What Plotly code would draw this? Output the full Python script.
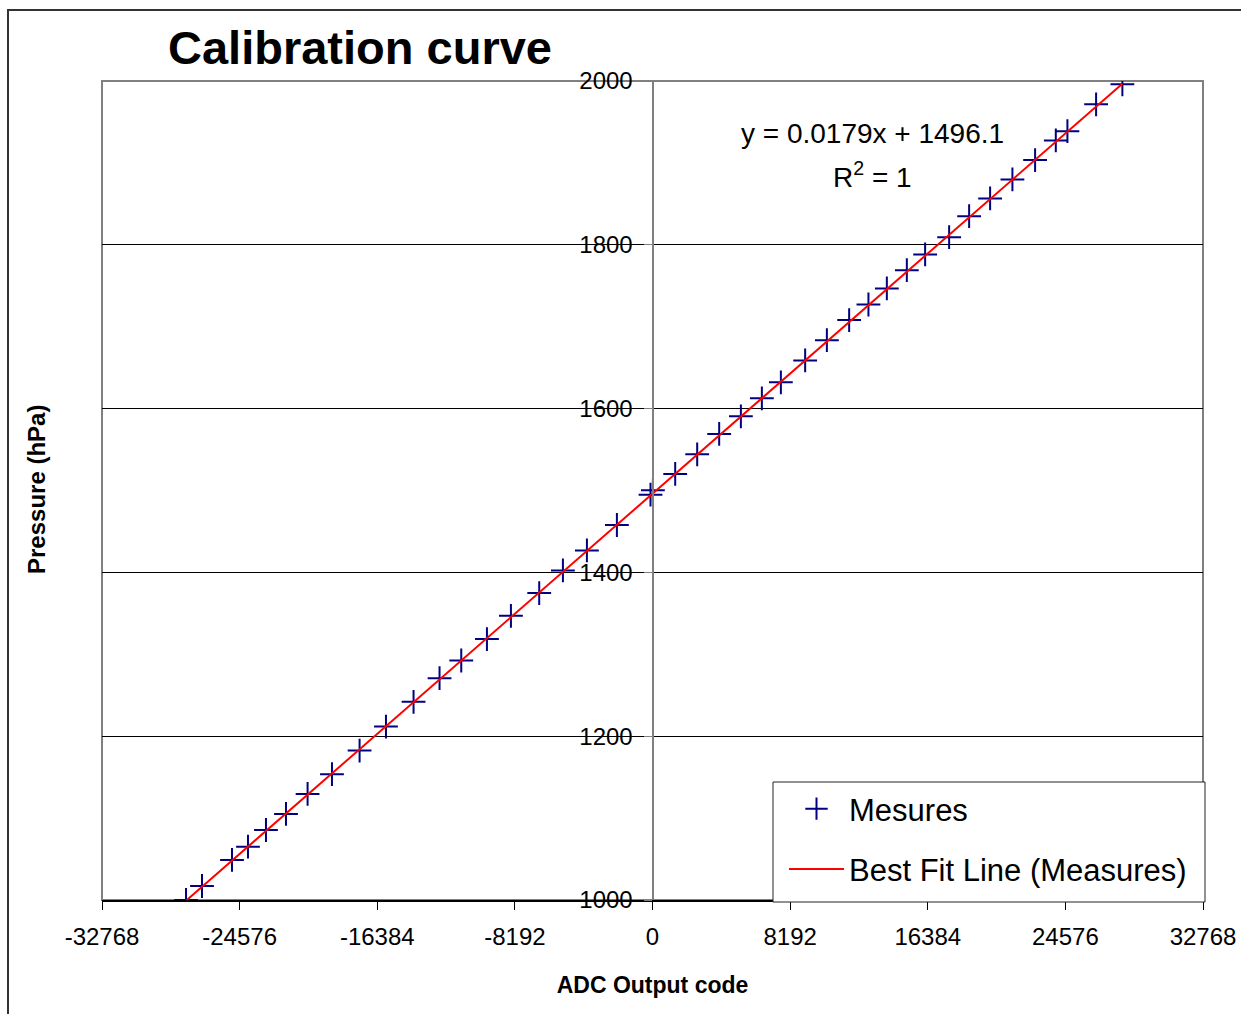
import plotly.graph_objects as go

# ---- data ----
adc_codes = [-27767, -26815, -25030, -24078, -23007, -21816, -20531, -19079, -17436,
             -15865, -14223, -12676, -11384, -9855, -8427, -6743, -5332, -3904, -2119,
             -119, 24, 1351, 2660, 3969, 5261, 6510, 7641, 9087, 10379, 11706, 12854,
             13949, 15139, 16228, 17657, 18847, 20096, 21424, 22774, 24006, 24697,
             26405, 27970]
pressures = [1000.0, 1017.1, 1048.9, 1065.1, 1085.5, 1105.1, 1129.5, 1153.6, 1182.4,
             1211.8, 1242.0, 1270.9, 1292.4, 1318.6, 1347.0, 1374.8, 1402.4, 1426.8,
             1457.9, 1494.9, 1500.2, 1520.2, 1544.2, 1569.1, 1590.6, 1612.6, 1632.1,
             1658.8, 1683.6, 1708.1, 1727.1, 1746.7, 1769.0, 1788.2, 1809.3, 1835.0,
             1856.6, 1879.8, 1903.4, 1927.5, 1938.7, 1971.5, 1995.9]
fit_slope = 0.0179
fit_intercept = 1496.1
x_ticks = [-32768, -24576, -16384, -8192, 0, 8192, 16384, 24576, 32768]
y_ticks = [1000, 1200, 1400, 1600, 1800, 2000]

# ---- geometry (page pixels; body margin removed in the page) ----
W, H = 1241, 1014
L, R, T, B = 102, 1203, 81, 900          # plot area in pixels


def px(xp):
    return (xp - L) / (R - L)


def py(yp):
    return (B - yp) / (B - T)


FONT = "Arial, Liberation Sans, sans-serif"

fit_x = [min(adc_codes), max(adc_codes)]
fit_y = [fit_slope * v + fit_intercept for v in fit_x]

fig = go.Figure()
fig.add_trace(go.Scatter(
    x=adc_codes, y=pressures, mode="markers", name="Mesures",
    marker=dict(symbol="cross-thin", size=17, color="#000080",
                line=dict(width=2, color="#000080")),
    legendgroup="a"))
fig.add_trace(go.Scatter(
    x=fit_x, y=fit_y, mode="lines", name="Best Fit Line (Measures)",
    line=dict(color="#ff0000", width=2), legendgroup="b"))

fig.update_layout(
    width=W, height=H,
    margin=dict(l=L, r=W - R, t=T, b=H - B, autoexpand=False),
    paper_bgcolor="white", plot_bgcolor="white",
    font=dict(family=FONT, color="black"),
    title=dict(text="<b>Calibration curve</b>", font=dict(size=47, family=FONT),
               x=360 / W, xanchor="center", xref="container",
               y=1 - 48 / H, yanchor="middle", yref="container"),
    showlegend=True,
    legend=dict(x=px(784), y=py(782), xanchor="left", yanchor="top",
                bgcolor="rgba(0,0,0,0)", borderwidth=0,
                font=dict(size=31, family=FONT), itemwidth=55,
                traceorder="grouped", tracegroupgap=17),
    xaxis=dict(range=[-32768, 32768], tickvals=x_ticks,
               ticktext=[str(v) for v in x_ticks],
               showgrid=False, zeroline=False,
               showline=True, linecolor="black", linewidth=2,
               ticks="outside", ticklen=8, tickcolor="black", tickwidth=1,
               tickfont=dict(size=24, family=FONT), ticklabelstandoff=6,
               ticklabeloverflow="allow",
               title=dict(text="<b>ADC Output code</b>", font=dict(size=23, family=FONT),
                          standoff=28)),
    yaxis=dict(range=[1000, 2000], tickvals=y_ticks, anchor="free", position=0.5,
               showgrid=True, gridcolor="black", gridwidth=1, zeroline=False,
               showline=True, linecolor="#808080", linewidth=2,
               ticks="outside", ticklen=8, tickcolor="#808080", tickwidth=1,
               tickfont=dict(size=24, family=FONT), ticklabelstandoff=6),
)

# plot-area border (gray) and outer chart frame
fig.add_shape(type="rect", xref="paper", yref="paper", x0=0, x1=1, y0=0, y1=1,
              line=dict(color="#808080", width=2), layer="between")
fig.add_shape(type="rect", xref="paper", yref="paper",
              x0=px(8), x1=px(1300), y0=py(1100), y1=py(10),
              line=dict(color="#333333", width=2), layer="below")
# legend box (opaque, bordered) behind the legend entries
fig.add_shape(type="rect", xref="paper", yref="paper",
              x0=px(773), x1=px(1205), y0=py(902), y1=py(782),
              line=dict(color="#222222", width=1), fillcolor="white", layer="above")

# y axis title
fig.add_annotation(text="<b>Pressure (hPa)</b>", xref="paper", yref="paper",
                   x=px(36), y=py(490), textangle=-90, showarrow=False,
                   font=dict(size=24, family=FONT), xanchor="center", yanchor="middle")
# trendline equation
fig.add_annotation(text="y = 0.0179x + 1496.1", xref="paper", yref="paper",
                   x=px(872), y=py(133), showarrow=False,
                   font=dict(size=28, family=FONT), xanchor="center", yanchor="middle")
fig.add_annotation(text="R<sup>2</sup> = 1", xref="paper", yref="paper",
                   x=px(872), y=py(175), showarrow=False,
                   font=dict(size=28, family=FONT), xanchor="center", yanchor="middle")

fig.write_html("out.html",
               config={"displayModeBar": False},
               post_script="document.body.style.margin='0';"
                           "document.body.style.overflow='hidden';")
